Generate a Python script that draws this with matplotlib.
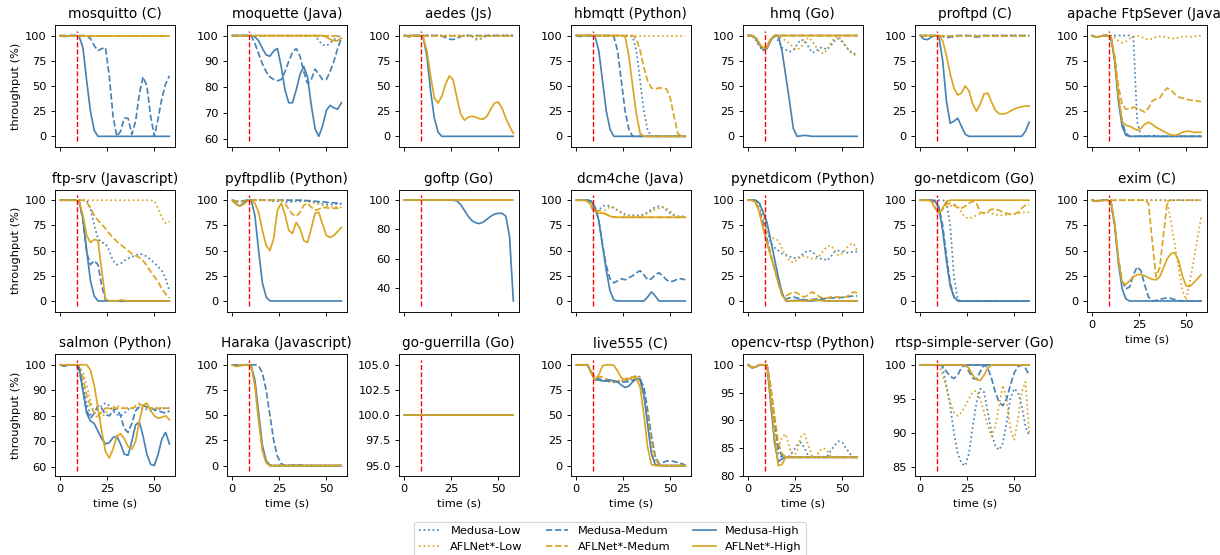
import matplotlib
matplotlib.use('Agg')
import matplotlib.pyplot as plt

# time axis (s), one sample every 2 s
T = [0, 2, 4, 6, 8, 10, 12, 14, 16, 18, 20, 22, 24, 26, 28, 30,
     32, 34, 36, 38, 40, 42, 44, 46, 48, 50, 52, 54, 56, 58]
FLAT = [100] * 30

# throughput (%) per target, keys: ml/mm/mh = Medusa Low/Medum/High, al/am/ah = AFLNet*
# a missing key means the series stays at 100
mosquitto = dict(
    mm=[100] * 8 + [97, 90, 85, 87, 88, 60, 20, 0, 5, 18, 18, 2, 15, 42, 59, 50, 20, 0, 18, 38, 52, 60],
    mh=[100, 99, 99.5, 100, 100, 99, 88, 55, 25, 6] + [0] * 20,
)
moquette = dict(
    ml=[100] * 23 + [98, 96.5, 96, 97, 98.5, 99.5, 100],
    mm=[100] * 6 + [97, 93, 89, 86, 84, 83, 82.5, 83, 86, 90, 93.5, 95, 92, 86, 81.5, 83, 87, 85, 83, 83, 86, 90, 95, 99],
    mh=[100] * 6 + [99.5, 98, 95, 92.5, 92, 94, 95, 88, 79, 74, 74, 79, 85, 88, 84, 73, 64, 61, 65, 71, 73, 72, 71.5, 74],
    ah=[100] * 25 + [99.5, 98.5, 98, 98, 99],
)
aedes = dict(
    ml=[100, 98.5, 99] + [100] * 15 + [99, 97, 96.5, 98] + [100] * 8,
    al=[100] * 18 + [99, 96, 95.5, 99] + [100] * 8,
    mm=[100] * 10 + [99.5, 98, 96.5, 96, 97.5, 99] + [100] * 14,
    mh=[100, 99, 100, 100, 100, 99, 80, 45, 18, 4] + [0] * 20,
    ah=[100, 99, 100, 100, 100, 99, 85, 60, 38, 33, 40, 52, 60, 56, 38, 22, 16, 19, 20, 19,
        17.5, 17, 20, 27, 33, 34, 28, 18, 10, 3],
)
hbmqtt = dict(
    ml=[100] * 15 + [99, 85, 55, 25, 6] + [0] * 10,
    mm=[100] * 10 + [99, 85, 55, 25, 7] + [0] * 15,
    am=[100] * 16 + [97, 85, 68, 55, 48, 47, 48, 48, 47, 38, 20, 3, 0, 0],
    mh=[100, 99, 100, 100, 100, 99, 85, 55, 25, 7] + [0] * 20,
    ah=[100] * 13 + [99, 80, 50, 22, 3] + [0] * 12,
)
hmq = dict(
    ml=[100, 100, 96, 89, 85, 88, 96, 99, 95, 88, 86, 84, 85, 91, 96, 95, 89, 83, 84, 88,
        88, 86, 90, 95, 97, 94, 89, 85, 82, 82],
    al=[100, 100, 98, 92, 87, 88, 96, 100, 99, 97, 95, 92, 88, 86, 88, 94, 98, 95, 89, 84,
        82, 86, 93, 98, 99, 95, 89, 84, 81, 80],
    mm=[100, 100, 98, 92, 87, 88, 96, 100] + [100] * 22,
    am=[100, 100, 98, 92, 88, 89, 97, 100] + [100] * 22,
    mh=[100, 100, 97, 91, 86, 87, 95, 100, 100, 85, 60, 35, 8, 0, 0.5, 1, 0.5] + [0] * 13,
    ah=[100, 100, 98, 92, 87, 88, 96, 100] + [100] * 22,
)
proftpd = dict(
    ml=[100] * 6 + [99.5, 98.5, 98, 99] + [100] * 20,
    mm=[100] * 6 + [99, 98, 98.5, 99.5] + [100] * 4 + [99, 98.5, 99] + [100] * 13,
    mh=[100, 96.5, 96, 98.5, 100, 99, 75, 35, 13, 15, 18, 10, 2] + [0] * 15 + [5, 14],
    ah=[100] * 6 + [95, 80, 62, 48, 41, 43, 50, 45, 32, 25, 32, 42, 43, 34, 26, 22.5, 22, 23,
                    25, 27, 28.5, 29.5, 30, 30],
)
apache = dict(
    ml=[100, 98.5, 99] + [100] * 8 + [98, 15, 0, 0, 0.5, 1, 0.5] + [0] * 12,
    al=[100, 98.5, 99, 100, 100, 100, 98, 95, 93, 94, 97, 99, 100, 99, 97, 96, 97, 98.5, 99, 99,
        98, 97, 97, 98, 99, 99, 98.5, 99, 99.5, 100],
    mm=[100, 98.5, 99, 100, 100, 99, 78, 40, 14, 3] + [0] * 20,
    am=[100, 98.5, 99, 100, 100, 99, 80, 50, 32, 27, 27, 29, 28, 26, 24, 28, 35, 37, 38, 44,
        48, 46, 42, 39, 38, 37, 36, 35.5, 35, 34.5],
    mh=[100, 98.5, 99, 100, 100, 99, 75, 35, 10, 1] + [0] * 20,
    ah=[100, 98.5, 99, 100, 100, 99, 78, 40, 15, 11, 10, 8, 6, 8, 12, 14, 12, 9, 7, 5,
        3, 1.5, 1, 2, 4, 5, 5, 4, 4, 4],
)
ftpsrv = dict(
    ml=[100] * 8 + [92, 75, 62, 58, 57, 50, 40, 36, 37, 40, 42, 44, 45, 47, 46, 44, 41, 38, 34, 30, 22, 10],
    al=[100] * 25 + [99, 92, 83, 77, 79],
    mm=[100, 100, 100, 100, 100, 99, 80, 48, 36, 40, 36, 15, 1] + [0] * 17,
    am=[100] * 7 + [98, 92, 85, 80, 76, 72, 67, 63, 59, 56, 53, 50, 47, 45, 43, 40, 35, 29, 24, 19, 12, 7, 3],
    mh=[100, 100, 100, 100, 100, 99, 82, 50, 20, 5] + [0] * 20,
    ah=[100, 100, 100, 100, 100, 99, 85, 65, 58, 61, 60, 30, 2, 0, 0, 0, 1, 0.5] + [0] * 12,
)
pyftpdlib = dict(
    ml=[100, 98, 98.5, 99, 99, 99, 100, 100, 100, 100, 99.5, 99, 99, 99, 98.5, 98, 98.5, 99, 99, 99,
        99, 98.5, 98, 97.5, 96.5, 96, 96, 96, 96.5, 96],
    al=[100, 98.5, 98.5, 99, 99.5, 100, 100, 100, 100, 100, 100, 100, 100, 100, 100, 100, 100, 100, 100, 99.5,
        99, 98, 97, 96, 95, 94.5, 94, 93.5, 93, 93],
    mm=[100, 99, 99, 99.5, 100, 100, 100, 100, 100, 100, 100, 100, 100, 100, 100, 100, 100, 100, 100, 100,
        99.5, 99.5, 99, 98.5, 98.5, 98, 97.5, 97.5, 97, 97],
    am=[100, 99, 98.5, 99, 99.5, 100, 100, 100, 100, 100, 100, 100, 100, 100, 97, 91, 86, 84, 88, 95,
        97, 93, 90, 91, 93, 92.5, 92, 92, 92, 92],
    mh=[100, 96, 94.5, 97, 100, 100, 85, 50, 18, 4] + [0] * 20,
    ah=[100, 96, 94, 96, 99, 100, 97, 88, 70, 55, 50, 62, 90, 97, 86, 70, 67, 78, 72, 60,
        58, 72, 87, 88, 76, 65, 63, 65, 69, 73],
)
goftp = dict(
    mh=[100] * 14 + [99.5, 97, 93, 89, 86, 84.5, 84, 85, 87, 89, 90.5, 91, 91, 89, 75, 31],
)
dcm4che = dict(
    ml=[100, 100, 100, 100, 96, 88, 90, 94, 95, 94, 92, 90, 88, 86, 85, 85, 85, 85, 86, 88,
        91, 93, 94, 93, 90, 87, 85, 84, 84, 84],
    al=[100, 100, 100, 100, 95, 90, 86, 88, 91, 93, 93, 90, 87, 85, 84, 84, 84, 84, 85, 87,
        89, 91, 92, 93, 92, 89, 86, 84, 83, 83],
    mm=[100, 100, 100, 100, 99, 93, 80, 56, 35, 22, 18, 20, 22, 21, 23, 25, 28, 30, 26, 21,
        22, 26, 28, 25, 21, 19, 20, 22, 22, 21],
    am=[100, 100, 100, 100, 93, 87, 90, 88, 86, 84, 83.5] + [83] * 19,
    mh=[100, 100, 100, 100, 99, 93, 80, 55, 30, 10, 1, 0, 0, 0, 0, 0, 0, 0, 0, 4,
        9, 5, 0, 0, 0, 0, 0, 0, 0, 0],
    ah=[100, 100, 100, 99, 95, 89, 87, 87, 86, 84] + [83] * 20,
)
pynetdicom = dict(
    ml=[100, 100, 100, 95, 85, 70, 58, 53, 50, 47, 46, 44, 43, 42, 45, 48, 50, 49, 45, 42,
        42, 40, 44, 49, 50, 49, 48, 48, 49, 49],
    al=[100, 100, 100, 95, 85, 72, 63, 62, 60, 52, 45, 40, 38, 41, 44, 45, 43, 42, 42, 45,
        50, 54, 55, 50, 45, 47, 52, 56, 57, 50],
    mm=[100, 100, 98, 90, 78, 62, 46, 32, 19, 7, 2, 3, 4, 3, 2, 1, 1, 1.5, 2, 2,
        2, 3, 3, 3, 3, 3.5, 4, 4.5, 5, 5],
    am=[100, 100, 98, 88, 72, 58, 45, 32, 18, 6, 5, 7, 9, 8, 5, 4, 6, 9, 7, 4,
        3, 3, 4, 4, 4, 3.5, 4, 6, 9, 8],
    mh=[100, 100, 100, 97, 88, 78, 60, 42, 24, 8, 0, 0, 0.5, 0.5, 1, 0.5, 0, 0, 0.5, 1,
        0.5, 0, 0, 0, 0, 0, 0, 0, 0, 0],
    ah=[100, 100, 98, 88, 72, 58, 45, 32, 18, 6, 0.5, 0, 0, 0, 0, 0, 0.5, 1, 1, 0.5,
        0, 0, 0, 0, 0, 0, 0, 0, 0, 0],
)
gonetdicom = dict(
    ml=[100] * 7 + [99, 75, 25, 1] + [0] * 19,
    al=[100, 100, 100, 100, 93, 90, 91, 93, 94, 96, 94, 88, 83, 82, 83, 85, 86.5, 87.5, 88, 87,
        86, 85, 85, 85.5, 86, 86.5, 87, 87.5, 88, 88],
    mm=[100, 100, 100, 100, 99, 93, 75, 45, 18, 4, 0.5] + [0] * 19,
    am=[100, 100, 100, 100, 92, 87, 91, 96, 97, 95, 92.5, 92, 94, 97, 99, 97, 88, 87, 89, 91,
        91, 90, 88, 87, 86, 86, 88, 92, 95, 96],
    mh=[100, 100, 100, 100, 99, 92, 70, 40, 15, 4, 0] + [0] * 19,
    ah=[100, 100, 100, 99, 92, 87, 92, 99] + [100] * 22,
)
exim = dict(
    ml=[100, 99, 99.5] + [100] * 27,
    al=[100] * 20 + [99, 78, 56, 33, 11, 1, 19, 40, 61, 83],
    mm=[100, 99, 99.5, 100, 100, 99, 76, 42, 20, 12, 14, 26, 34, 30, 16, 4, 0, 0.5, 1.5, 2.5,
        3, 2.5, 1.5, 0.5, 0, 0, 0, 0, 0, 0],
    am=[100, 99, 99.5] + [100] * 12 + [97, 60, 24, 33, 66, 99] + [100] * 9,
    mh=[100, 99, 99.5, 100, 100, 99, 75, 38, 12, 2] + [0] * 20,
    ah=[100, 99, 99.5, 100, 100, 99, 78, 42, 18, 16.5, 20, 24, 26, 26.5, 25, 23, 21.5, 21, 24, 33,
        42, 47, 48, 40, 25, 15, 14.5, 18, 22, 26],
)
salmon = dict(
    ml=[100, 99.5, 100, 100, 100, 99, 92, 85, 80.5, 81, 82.5, 84, 85, 84, 82, 80.5, 80, 81, 82.5, 83,
        83, 83, 83, 82.5, 82, 82, 82.5, 83, 83, 83],
    al=[100, 99.5, 100, 100, 100, 99.5, 97, 92, 86, 81, 79, 79.5, 81, 82.5, 83.5, 84, 83.5, 83, 83, 83,
        84, 85, 84, 83.5, 83, 83, 83, 83, 83, 83],
    mm=[100, 99.5, 100, 100, 100, 98, 90, 82, 79, 81, 84, 83, 80.5, 80, 82, 83, 80, 75, 73.5, 77,
        82, 83.5, 84, 83.5, 83, 82.5, 82, 81.5, 81, 82],
    am=[100, 99.5, 100, 100, 100, 99, 95, 88, 84, 81, 80, 81.5, 83, 83, 83, 83, 83, 83, 83, 83,
        83.5, 84.5, 84, 83.5, 83, 83, 83, 83, 83, 83],
    mh=[100, 99.5, 100, 100, 100, 99, 90, 81, 78, 77, 74, 71, 69, 69.5, 71.5, 72, 69, 65, 64.5, 70,
        76.5, 77.5, 72, 65, 61, 60.5, 65, 71, 73.5, 69],
    ah=[100] * 8 + [98, 92, 83, 74, 66, 63.5, 67, 72, 73, 71, 68, 67, 70, 78, 84, 85, 82, 80, 79, 79.5, 80, 78.5],
)
haraka = dict(
    ml=[100, 98.5, 99, 100, 100, 99, 81, 47, 16, 3] + [0] * 20,
    al=[100, 98.5, 99, 100, 100, 99, 81, 47, 16, 3] + [0] * 20,
    mm=[100] * 7 + [99, 92, 75, 50, 25, 9, 2, 0, 0, 0.5, 1, 0.5, 0] + [0] * 10,
    am=[100, 98.5, 99, 100, 100, 99, 81, 47, 16, 3] + [0] * 20,
    mh=[100, 99, 99.5, 100, 100, 99.5, 85, 52, 20, 5, 0.5] + [0] * 19,
    ah=[100, 98.5, 99, 100, 100, 99, 80, 45, 15, 3] + [0] * 20,
)
goguerrilla = dict()
live555 = dict(
    ml=[100, 100, 100, 100, 92, 86, 85, 84, 84, 83.5, 83, 83, 83.5, 84, 85, 87, 89, 88, 75, 50,
        25, 7, 0.5] + [0] * 7,
    al=[100, 100, 100, 100, 92, 86, 85, 84, 83.5, 83, 82.5, 83, 84, 85, 86, 87, 90, 87, 73, 48,
        22, 5, 0.5] + [0] * 7,
    mm=[100, 100, 100, 100, 93, 87, 86, 85, 84, 84, 83.5, 83, 83, 83, 83.5, 85, 86, 85, 78, 55,
        30, 10, 2, 3, 4.5, 5, 4, 3, 2, 0.5],
    am=[100, 100, 100, 100, 93, 88, 88, 88, 86, 84, 83, 84, 85, 86, 87, 88, 88, 84, 70, 48,
        25, 8, 0.5] + [0] * 7,
    mh=[100, 100, 100, 100, 92, 85, 85, 84, 84.5, 85, 84, 83, 80, 77.5, 79, 83, 86, 86, 70, 40,
        12, 1] + [0] * 8,
    ah=[100, 100, 100, 100, 92, 85, 90, 99, 100, 100, 99.5, 94, 87, 85, 86, 88, 86, 78, 50, 18,
        1] + [0] * 9,
)
opencv = dict(
    ml=[100, 99.5, 99.6, 100, 100, 100, 95, 88, 84, 83.2, 83.3, 83.5, 84.5, 85.5, 86, 85, 83.5, 83.2, 83.3, 83.3,
        83.3, 83.5, 84.5, 85.5, 86.2, 86, 85, 84, 83.3, 83],
    al=[100, 99.5, 99.6, 100, 100, 100, 95, 88, 85, 87, 87.5, 85, 83.2, 84.5, 87, 87.5, 85.5, 83.5, 83.3, 84.5,
        85, 84.5, 83.5, 83.3, 83.3, 83.3, 83.3, 83.3, 83.3, 83.3],
    mm=[100, 99.5, 99.6, 100, 100, 100, 96, 90, 85, 83.5, 83.3] + [83.3] * 19,
    am=[100, 99.5, 99.6, 100, 100, 100, 96, 91, 86, 84, 83.3] + [83.3] * 19,
    mh=[100, 99.5, 99.6, 100, 100, 100, 93, 86, 82.5, 83, 83.3] + [83.3] * 19,
    ah=[100, 99.5, 99.6, 100, 100, 100, 94, 87, 81.8, 82, 83.4] + [83.3] * 19,
)
rtsp = dict(
    ml=[100] * 6 + [99.5, 97, 94, 90, 87, 85.5, 85.2, 87, 91, 94.5, 96.5, 96, 93, 90, 88, 87.5, 88.5, 91.5,
                    95, 96.5, 96, 94, 91, 89.5],
    al=[100] * 6 + [98.5, 96.5, 94.5, 93, 92.5, 93, 94, 95, 96, 96.2, 95, 93, 91, 89.5, 91, 94, 97, 95,
                    90.5, 89, 92, 96, 97.5, 90],
    mm=[100] * 6 + [99.8, 99, 98.3, 98, 98.5, 99.6, 100, 99, 98, 97.9, 99, 100, 99.5, 98, 96, 94.5, 94, 95,
                    97, 98.8, 99.7, 100, 99.5, 98.5],
    ah=[100] * 13 + [99.5, 98.5, 97.8, 97.7, 98.5, 99.5, 100] + [100] * 10,
)

titles = ['mosquitto (C)', 'moquette (Java)', 'aedes (Js)', 'hbmqtt (Python)', 'hmq (Go)',
          'proftpd (C)', 'apache FtpSever (Java)',
          'ftp-srv (Javascript)', 'pyftpdlib (Python)', 'goftp (Go)', 'dcm4che (Java)',
          'pynetdicom (Python)', 'go-netdicom (Go)', 'exim (C)',
          'salmon (Python)', 'Haraka (Javascript)', 'go-guerrilla (Go)', 'live555 (C)',
          'opencv-rtsp (Python)', 'rtsp-simple-server (Go)']
panels = [mosquitto, moquette, aedes, hbmqtt, hmq, proftpd, apache,
          ftpsrv, pyftpdlib, goftp, dcm4che, pynetdicom, gonetdicom, exim,
          salmon, haraka, goguerrilla, live555, opencv, rtsp]

series = [('ml', 'Medusa-Low', 'steelblue', ':'),
          ('al', 'AFLNet*-Low', 'goldenrod', ':'),
          ('mm', 'Medusa-Medum', 'steelblue', '--'),
          ('am', 'AFLNet*-Medum', 'goldenrod', '--'),
          ('mh', 'Medusa-High', 'steelblue', '-'),
          ('ah', 'AFLNet*-High', 'goldenrod', '-')]

fig, axes = plt.subplots(3, 7, sharex=True, figsize=(1220 / 82, 555 / 82), dpi=82)
fig.subplots_adjust(left=0.045, right=0.989, top=0.955, bottom=0.142, wspace=0.433, hspace=0.35)

for k, (title, data) in enumerate(zip(titles, panels)):
    ax = axes.flat[k]
    for key, label, color, ls in series:
        ax.plot(T, data.get(key, FLAT), color=color, linestyle=ls, label=label)
    # attack start marker
    lo, hi = ax.get_ylim()
    ax.vlines(9, lo, hi, colors='#ff0000', linestyles='--', linewidth=1.2)
    ax.set_title(title)
    if k % 7 == 0:
        ax.set_ylabel('throughput (%)')
    if k >= 14:
        ax.set_xlabel('time (s)')

axes[1, 6].tick_params(labelbottom=True)
axes[1, 6].set_xlabel('time (s)')
axes[2, 6].set_visible(False)

handles, labels = axes[0, 0].get_legend_handles_labels()
fig.legend(handles, labels, loc='upper center', bbox_to_anchor=(0.5, 0.07), ncol=3)

fig.savefig('out.png', dpi=82)
